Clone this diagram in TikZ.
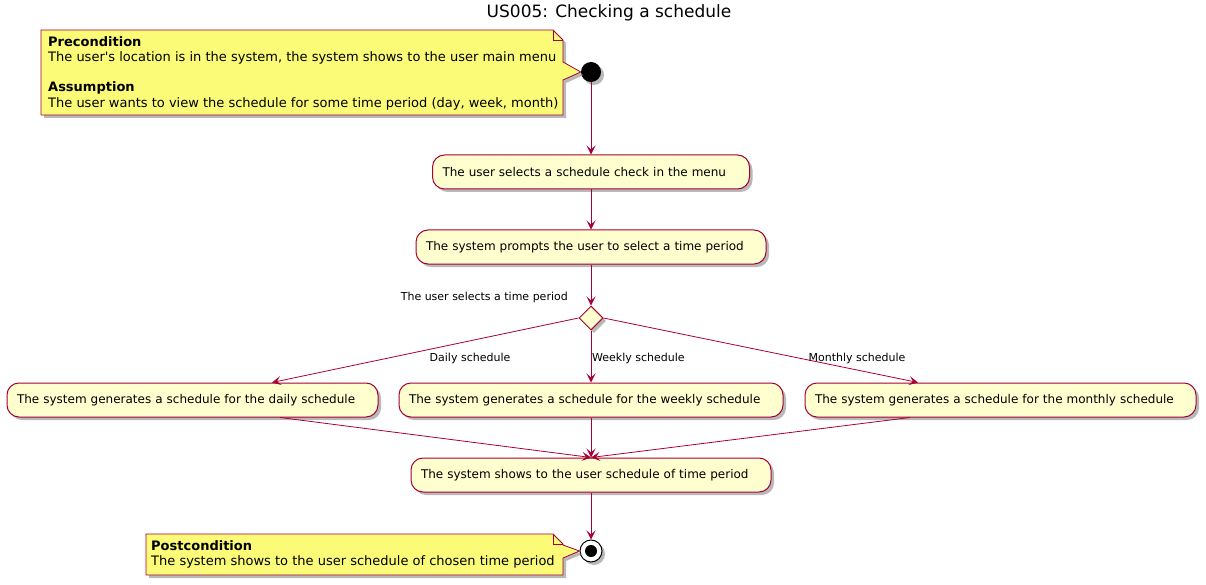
\documentclass[tikz,border=0pt]{standalone}
\usepackage{fontspec}
\setmainfont{DejaVu Sans}
\usetikzlibrary{arrows.meta,shadows,shapes.geometric}

\definecolor{umlred}{HTML}{A80036}
\definecolor{actfill}{HTML}{FEFECE}
\definecolor{notefill}{HTML}{FBFB77}

\tikzset{
  umlshadow/.style={drop shadow={shadow xshift=3pt,shadow yshift=-3pt,fill=black!55,opacity=.5}},
  activity/.style={draw=umlred,line width=1pt,fill=actfill,rounded corners=12pt,minimum height=34pt,
    inner xsep=10pt,align=left,font=\fontsize{12}{14}\selectfont,umlshadow},
  flow/.style={draw=umlred,line width=.8pt,-{Stealth[length=9pt,width=9pt,inset=4pt]}},
  guard/.style={font=\fontsize{11}{13}\selectfont,inner sep=0pt},
  notetext/.style={align=left,inner sep=0pt,font=\fontsize{13}{15.3}\selectfont},
}

\begin{document}
\begin{tikzpicture}[x=1pt,y=-1pt]
        \useasboundingbox (0,0) rectangle (1206,585);

        \node[font=\fontsize{17}{20}\selectfont] (title) at (609,12.5) {US005: Checking a schedule};

        % start and notes
        \node[circle,fill=black,minimum size=20pt,inner sep=0pt,umlshadow] (start) at (591,72) {};
        \draw[draw=umlred,line width=.8pt,fill=notefill,umlshadow] (41,30) -- (553,30) -- (563,40) -- (563,62)
            -- (start.west) -- (563,80) -- (563,115) -- (41,115) -- cycle;
        \draw[umlred,line width=.8pt] (553,30) -- (553,40) -- (563,40);
        \node[notetext,anchor=north west] (pre) at (48,36)
            {\textbf{Precondition}\\The user\textquotesingle s location is in the system, the system shows to the user main menu\\[15.3pt]
             \textbf{Assumption}\\The user wants to view the schedule for some time period (day, week, month)};

        % activities
        \node[activity,text width=297pt] (act1) at (591,172) {The user selects a schedule check in the menu};
        \node[activity,text width=330pt] (act2) at (591,247) {The system prompts the user to select a time period};
        \node[diamond,draw=umlred,line width=1pt,fill=actfill,minimum width=24pt,minimum height=24pt,inner sep=0pt,umlshadow] (dec) at (591,318) {};

        \node[activity,text width=351pt] (daily) at (192.5,400) {The system generates a schedule for the daily schedule};
        \node[activity,text width=364pt] (weekly) at (591,400) {The system generates a schedule for the weekly schedule};
        \node[activity,text width=371pt] (monthly) at (1000.5,400) {The system generates a schedule for the monthly schedule};

        \node[activity,text width=340pt] (show) at (591,475) {The system shows to the user schedule of time period};

        \node[circle,draw=black,line width=1pt,fill=white,minimum size=22pt,inner sep=0pt,umlshadow] (stop) at (591,551) {};
        \fill (stop) circle (6pt);
        \draw[draw=umlred,line width=.8pt,fill=notefill,umlshadow] (146,534) -- (553,534) -- (563,544) -- (563,545)
            -- (stop.west) -- (563,558) -- (563,575) -- (146,575) -- cycle;
        \draw[umlred,line width=.8pt] (553,534) -- (553,544) -- (563,544);
        \node[notetext,anchor=north west] (post) at (151,540)
            {\textbf{Postcondition}\\The system shows to the user schedule of chosen time period};

        % flows
        \draw[flow] (start) -- (act1);
        \draw[flow] (act1) -- (act2);
        \draw[flow] (act2) -- (dec);
        \draw[flow] (dec.west) -- ([xshift=79.5pt]daily.north);
        \draw[flow] (dec) -- (weekly);
        \draw[flow] (dec.east) -- ([xshift=-82.5pt]monthly.north);
        \draw[flow] ([xshift=87.5pt]daily.south) -- (show.north);
        \draw[flow] (weekly) -- (show);
        \draw[flow] ([xshift=-90.5pt]monthly.south) -- (show.north);
        \draw[flow] (show) -- (stop);

        \node[guard,anchor=east] (sel) at (568,297) {The user selects a time period};
        \node[guard] (dl) at (470,358) {Daily schedule};
        \node[guard,anchor=west] (wl) at (592,358) {Weekly schedule};
        \node[guard] (ml) at (857,358) {Monthly schedule};

    \end{tikzpicture}
\end{document}
